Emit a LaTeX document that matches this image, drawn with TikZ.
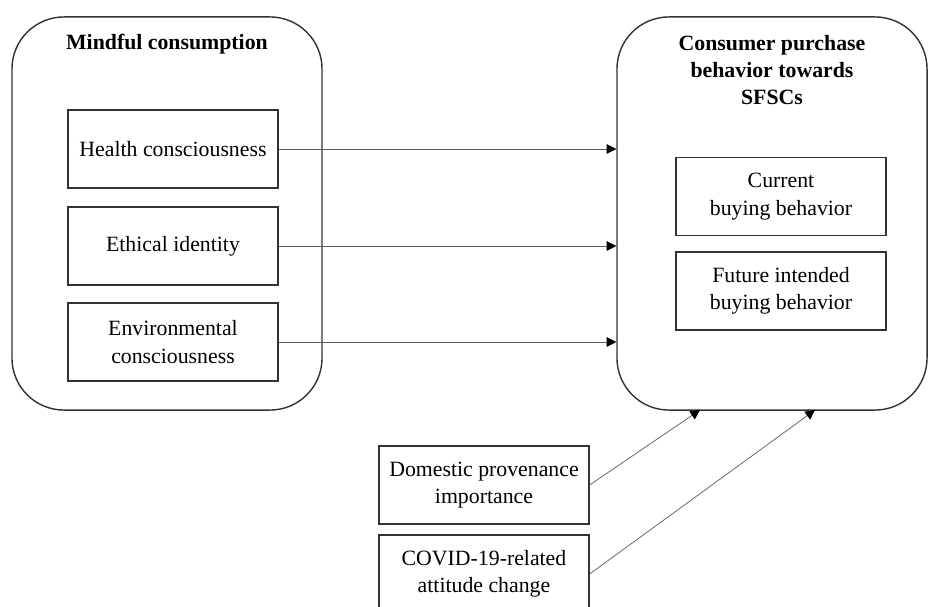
\documentclass[tikz,border=0pt]{standalone}
\usepackage{fontspec}
\setmainfont{Liberation Serif}
\usetikzlibrary{arrows.meta, positioning, calc}

\begin{document}
\begin{tikzpicture}[
        x=0.025cm, y=-0.025cm,
        every node/.style={font=\fontsize{15.5}{19.5}\selectfont, align=center},
        group/.style={draw=black!80, line width=1pt, rounded corners=1.3cm,
            minimum width=7.75cm, minimum height=9.825cm},
        factor/.style={draw=black!80, line width=0.8pt, minimum width=5.25cm,
            minimum height=1.95cm, inner sep=2pt},
        title/.style={font=\fontsize{15.5}{19.5}\selectfont\bfseries},
        link/.style={draw=black!65, line width=0.5pt,
            -{Triangle[length=2.4mm, width=2.4mm, color=black]}},
    ]
        \useasboundingbox (0,0) rectangle (928,606);

        % outer groups
        \node[group] (mc) at (167, 213.5) {};
        \node[group] (cp) at (772, 213.5) {};
        \node[title] (mctitle) at (167, 44) {Mindful consumption};
        \node[title] (cptitle) at (772, 70) {Consumer purchase\\behavior towards\\SFSCs};

        % mindful consumption factors
        \node[factor] (hc) at (173, 149) {Health consciousness};
        \node[factor] (ei) at (173, 246) {Ethical identity};
        \node[factor] (ec) at (173, 342) {Environmental\\consciousness};

        % purchase behavior
        \node[factor] (cb) at (781, 196.5) {Current\\buying behavior};
        \node[factor] (fb) at (781, 291) {Future intended\\buying behavior};

        % moderators
        \node[factor] (dp) at (484, 485) {Domestic provenance\\importance};
        \node[factor] (cv) at (484, 574) {COVID-19-related\\attitude change};

        \coordinate (dpend) at (700, 410);
        \coordinate (cvend) at (815, 410);

        \draw[link] (hc.east) -- (hc.east -| cp.west);
        \draw[link] (ei.east) -- (ei.east -| cp.west);
        \draw[link] (ec.east) -- (ec.east -| cp.west);
        \draw[link] (dp.east) -- (dpend);
        \draw[link] (cv.east) -- (cvend);
    \end{tikzpicture}
\end{document}
